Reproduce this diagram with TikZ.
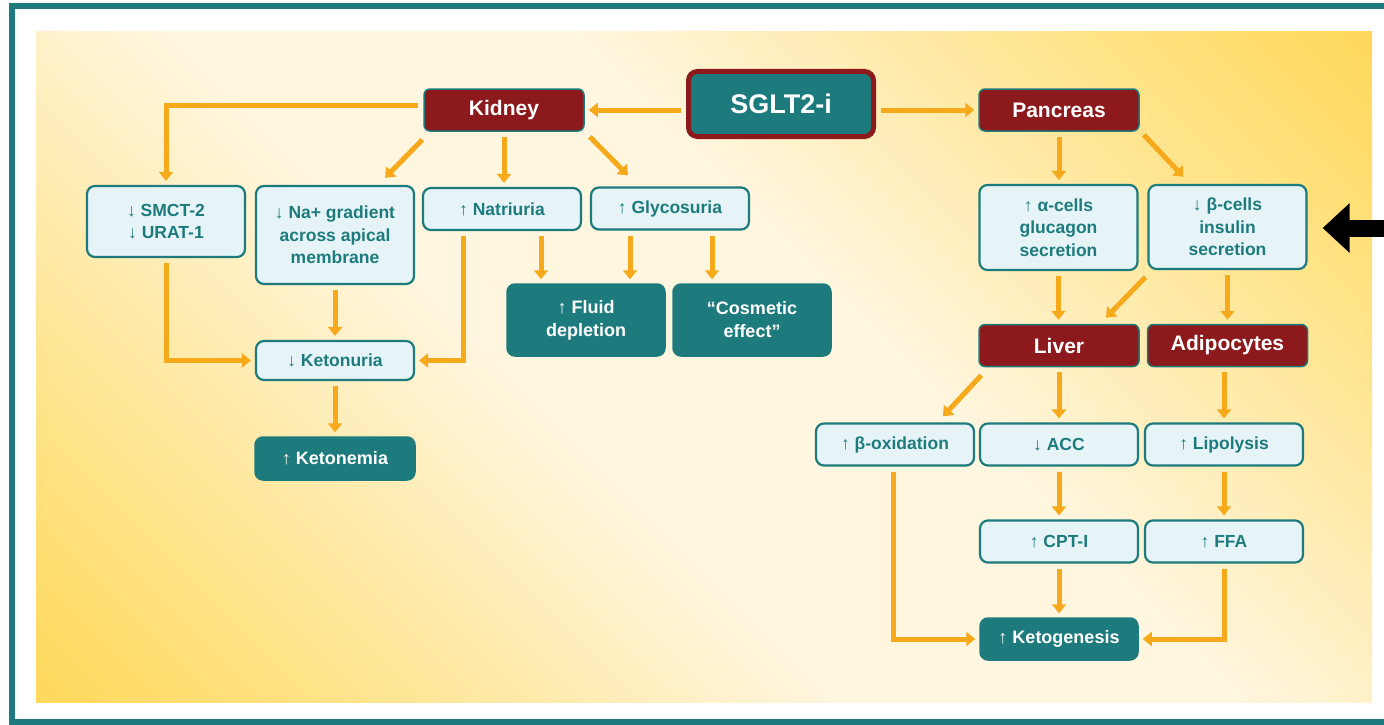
\documentclass[tikz,border=0pt]{standalone}
\usepackage{fontspec}
\setmainfont{Liberation Sans}
\newfontfamily\arrfont{Liberation Sans}
\usetikzlibrary{arrows.meta}
\definecolor{tealD}{HTML}{1E7B7D}
\definecolor{redD}{HTML}{8C1A1C}
\definecolor{lightB}{HTML}{E6F4F8}
\definecolor{orng}{HTML}{F6A91A}
\definecolor{bgY}{HTML}{FFC920}
\definecolor{bgM}{HTML}{FFE07A}
\definecolor{bgC}{HTML}{FFF6E0}
\pgfdeclareverticalshading{bgshade}{100bp}{color(0bp)=(bgY); color(22bp)=(bgM); color(43bp)=(bgC); color(57bp)=(bgC); color(78bp)=(bgM); color(100bp)=(bgY)}
\newcommand\UpA{{\arrfont\mdseries ↑}}
\newcommand\DnA{{\arrfont\mdseries ↓}}
\tikzset{
  lbox/.style={draw=tealD, line width=2.2pt, fill=lightB, rounded corners=8pt, text=tealD,
    font=\bfseries\fontsize{17.5}{22.5}\selectfont, align=center, minimum width=158pt,
    minimum height=42pt, inner sep=0pt},
  rbox/.style={draw=tealD, line width=1.5pt, fill=redD, rounded corners=6pt, text=white,
    font=\bfseries\fontsize{21}{25}\selectfont, align=center, minimum width=160pt,
    minimum height=42pt, inner sep=0pt},
  tbox/.style={draw=tealD, line width=1.5pt, fill=tealD, rounded corners=8pt, text=white,
    font=\bfseries\fontsize{18}{23}\selectfont, align=center, minimum width=158pt,
    minimum height=42pt, inner sep=0pt},
  sglt/.style={draw=redD, line width=5pt, fill=tealD, rounded corners=9pt, text=white,
    font=\bfseries\fontsize{27}{30}\selectfont, minimum width=185pt, minimum height=65pt, inner sep=0pt},
  arr/.style={draw=orng, line width=5pt, -{Triangle[width=14pt,length=9pt]}, shorten <=5pt, shorten >=4pt},
  darr/.style={draw=orng, line width=5pt, -{Triangle[width=14pt,length=9pt]}},
}
\begin{document}
\begin{tikzpicture}[x=1pt,y=-1pt]
\useasboundingbox (0,0) rectangle (1384,725);
% frame
\fill[white] (0,0) rectangle (1384,725);
\shade[shading=bgshade, shading angle=-45] (36,32) rectangle (1372,702);
\draw[tealD, line width=6pt] (1390,6.5) -- (11.5,6.5) -- (11.5,721.5) -- (1390,721.5);

% nodes
\node[sglt] (sg) at (781,104) {SGLT2-i};
\node[rbox] (kid) at (504,110) {Kidney};
\node[rbox] (pan) at (1059,110) {Pancreas};

\node[lbox, minimum height=71pt] (smct) at (166,221.5) {\DnA\ SMCT-2\\\DnA\ URAT-1};
\node[lbox, minimum height=98pt] (na) at (335,235) {\DnA\ Na+ gradient\\across apical\\membrane};
\node[lbox] (nat) at (502,209) {\UpA\ Natriuria};
\node[lbox] (gly) at (670,208.5) {\UpA\ Glycosuria};
\node[tbox, minimum height=72pt] (fluid) at (586,320) {\UpA\ Fluid\\depletion};
\node[tbox, minimum height=72pt] (cos) at (752,320) {“Cosmetic\\effect”};
\node[lbox, minimum height=39pt] (ketu) at (335,360.5) {\DnA\ Ketonuria};
\node[tbox, minimum width=160pt, minimum height=43pt] (ketn) at (335,458.5) {\UpA\ Ketonemia};

\node[lbox, minimum height=85pt] (alpha) at (1058.5,227.5) {\UpA\ α-cells\\glucagon\\secretion};
\node[lbox, minimum height=84pt] (beta) at (1227.5,227) {\DnA\ β-cells\\insulin\\secretion};
\node[rbox] (liv) at (1059,345.5) {Liver};
\node[rbox] (adi) at (1227.5,345.5) {Adipocytes};
\node[lbox] (box) at (895,444.5) {\UpA\ β-oxidation};
\node[lbox] (acc) at (1059,444.5) {\DnA\ ACC};
\node[lbox] (lip) at (1224,444.5) {\UpA\ Lipolysis};
\node[lbox] (cpt) at (1059,541.5) {\UpA\ CPT-I};
\node[lbox] (ffa) at (1224,541.5) {\UpA\ FFA};
\node[tbox] (keto) at (1059,639) {\UpA\ Ketogenesis};

% connectors
\draw[arr] (sg.west |- kid.east) -- (kid.east);
\draw[arr] (sg.east |- pan.west) -- (pan.west);

\draw[arr] ([yshift=5pt]kid.west) -| (smct.north);
\draw[darr] ([shift={(-1,8)}]kid.south west) -- ([shift={(50,-7)}]na.north);
\draw[arr] (kid.south) -- (kid.south |- nat.north);
\draw[darr] ([shift={(5,5)}]kid.south east) -- ([shift={(-42,-11)}]gly.north);

\draw[arr] ([xshift=39]nat.south) -- ([xshift=39]nat.south |- fluid.north);
\draw[arr] ([xshift=-40]gly.south) -- ([xshift=-40]gly.south |- fluid.north);
\draw[arr] ([xshift=42]gly.south) -- ([xshift=42]gly.south |- cos.north);
\draw[arr] ([xshift=-39]nat.south) |- (ketu.east);
\draw[arr] (smct.south) |- (ketu.west);
\draw[arr] (na.south) -- (ketu.north);
\draw[arr] (ketu.south) -- (ketn.north);

\draw[arr] (pan.south) -- (pan.south |- alpha.north);
\draw[darr] ([shift={(4,3)}]pan.south east) -- ([shift={(-44,-7)}]beta.north);
\draw[arr] (alpha.south) -- (alpha.south |- liv.north);
\draw[darr] ([shift={(-2,7)}]beta.south west) -- ([shift={(47,-6)}]liv.north);
\draw[arr] (beta.south) -- (beta.south |- adi.north);

\draw[darr] ([shift={(3,8)}]liv.south west) -- ([shift={(48,-6)}]box.north);
\draw[arr] (liv.south) -- (liv.south |- acc.north);
\draw[arr] (adi.south -| lip.north) -- (lip.north);
\draw[arr] (acc.south) -- (cpt.north);
\draw[arr] (lip.south) -- (ffa.north);
\draw[arr] (cpt.south) -- (keto.north);
\draw[arr] ([xshift=-2]box.south) |- (keto.west);
\draw[arr] (ffa.south) |- (keto.east);

% black pointer
\coordinate (bk) at (1400,228);
\draw[black, line width=17pt, -{Triangle[width=48pt,length=27pt]}] (bk) -- ([xshift=15]beta.east |- bk);
\end{tikzpicture}
\end{document}
